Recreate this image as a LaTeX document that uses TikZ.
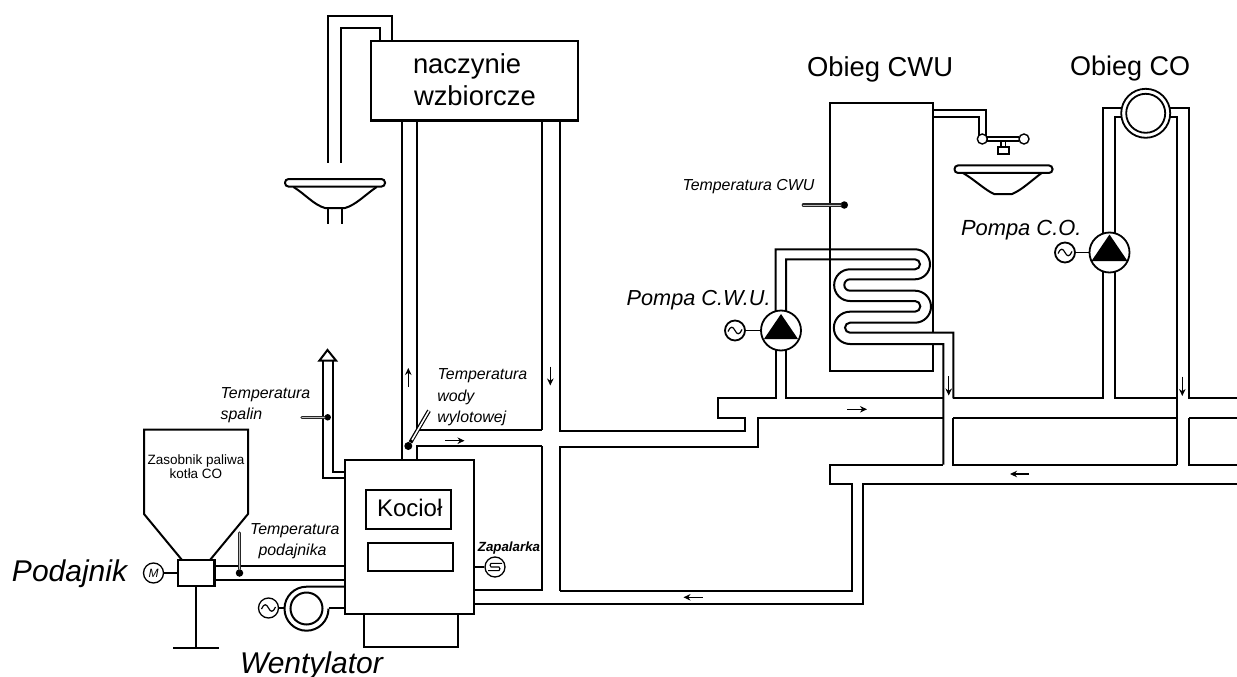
\documentclass[tikz,border=0pt]{standalone}
\usepackage{fontspec}
\setmainfont{Liberation Sans}
\usetikzlibrary{arrows.meta,calc}
\tikzset{
  pipe/.style={line width=2pt,line join=miter,draw=black},
  thin pipe/.style={line width=1.5pt},
  box/.style={draw,line width=2.2pt,fill=white},
  disc/.style={circle,draw,line width=1.8pt,fill=white,inner sep=0pt,minimum size=#1},
  dotmark/.style={circle,fill=black,inner sep=0pt,minimum size=#1},
  stemline/.style={line width=3.2pt,line cap=round,draw=black!85,postaction={draw=gray!50,line width=1pt}},
  flow/.style={line width=1.2pt,-{Stealth[length=7pt,width=6.5pt]}},
  lab/.style={anchor=base west,inner sep=0pt,outer sep=0pt,align=left},
}
\newcommand{\fsz}[1]{\fontsize{#1}{#1}\selectfont}
\newcommand{\sinewave}[1]{\draw[line width=1.2pt] ($(#1)+(-7,1)$) .. controls ($(#1)+(-4.5,-5)$) and ($(#1)+(-2,-4)$) .. ($(#1)+(0,0)$) .. controls ($(#1)+(2,4)$) and ($(#1)+(4.5,5)$) .. ($(#1)+(7,-1)$);}
\begin{document}
\begin{tikzpicture}[x=1pt,y=-1pt]
\useasboundingbox (0,0) rectangle (1237,677);

% overflow pipe and basin 1
\draw[pipe] (392.3,41) -- (392.3,15.7) -- (327.7,15.7) -- (327.7,162.7);
\draw[pipe] (380,41) -- (380,27.7) -- (341,27.7) -- (341,162.7);
\draw[pipe] (293.5,187) .. controls (305,194) and (314,205) .. (325,208) -- (345,208) .. controls (356,205) and (366,194) .. (376.7,187);
\draw[pipe] (327.7,208) -- (327.7,224) (342.3,208) -- (342.3,224);
\node[draw,line width=2pt,rounded corners=3.5pt,minimum width=100pt,minimum height=7.5pt,inner sep=0pt] (basinA) at (335,182.8) {};

% main supply / return from boiler
\draw[pipe] (401.7,460) -- (401.7,121);
\draw[pipe] (416.7,121) -- (416.7,430) -- (542.3,430);
\draw[pipe] (416.7,460) -- (416.7,446) -- (542.3,446);
\draw[pipe] (542.3,121) -- (542.3,430);
\draw[pipe] (542.3,446) -- (542.3,590) -- (474,590);
\draw[pipe] (559.7,121) -- (559.7,431) -- (745,431) -- (745,418.3) -- (718.3,418.3) -- (718.3,398.4) -- (775.7,398.4) -- (775.7,345);
\draw[pipe] (559.7,590.5) -- (559.7,446.7) -- (758,446.7) -- (758,417.8) -- (943.3,417.8);
\draw[pipe] (786,345) -- (786,398.4) -- (943.3,398.4);
% return main
\draw[pipe] (559.7,590.5) -- (851.7,590.5) -- (851.7,484.2) -- (830,484.2) -- (830,464.7) -- (943.3,464.7);
\draw[pipe] (474,603.5) -- (863.3,603.5) -- (863.3,484.2) -- (1237,484.2);

% DHW branch down
\draw[pipe] (953.3,417.8) -- (953.3,464.7) -- (1176.7,464.7);
\draw[pipe] (953.3,398.4) -- (1103.3,398.4) -- (1103.3,270);
\draw[pipe] (953.3,417.8) -- (1176.7,417.8);
\draw[pipe] (1115,270) -- (1115,398.4) -- (1176.7,398.4);
% CO circuit
\draw[pipe] (1103.3,235) -- (1103.3,108.3) -- (1189,108.3) -- (1189,398.4) -- (1237,398.4);
\draw[pipe] (1115,235) -- (1115,117.3) -- (1176.7,117.3) -- (1176.7,464.7);
\draw[pipe] (1189,417.8) -- (1237,417.8);
\draw[pipe] (1189,417.8) -- (1189,464.7) -- (1237,464.7);

% storage tank
\draw[pipe] (829.5,249.3) -- (829.5,102.7) -- (933.3,102.7) -- (933.3,332.7);
\draw[pipe] (829.5,249.3) -- (829.5,371) -- (933.3,371) -- (933.3,344);

% coil, two walls
\draw[pipe] (775.7,312) -- (775.7,249.3) -- (915,249.3)
  arc[start angle=-90,end angle=90,radius=15] -- (850,279.3)
  arc[start angle=-90,end angle=-270,radius=5.7] -- (915,290.7)
  arc[start angle=-90,end angle=90,radius=16] -- (850,322.7)
  arc[start angle=-90,end angle=-270,radius=5] -- (953.3,332.7) -- (953.3,398.4);
\draw[pipe] (786,312) -- (786,259.3) -- (915,259.3)
  arc[start angle=-90,end angle=90,radius=5] -- (850,269.3)
  arc[start angle=-90,end angle=-270,radius=15.85] -- (915,301)
  arc[start angle=-90,end angle=90,radius=5.35] -- (850,311.7)
  arc[start angle=-90,end angle=-270,radius=16.15] -- (943.3,344) -- (943.3,464.7);

% hot water to tap
\draw[pipe] (933.3,110) -- (985.7,110) -- (985.7,136);
\draw[pipe] (933.3,117.3) -- (979,117.3) -- (979,135);

% tap
\node[disc=10pt,line width=1.4pt] (tapL) at (982.3,139) {};
\node[disc=10pt,line width=1.4pt] (tapR) at (1024,139) {};
\draw[pipe] (987,136.9) -- (1019,136.9) (987,141) -- (1019,141);
\draw[pipe,thin pipe] (1001,141) -- (1001,147.5) (1005.7,141) -- (1005.7,147.5);
\node[draw,line width=1.6pt,minimum width=11pt,minimum height=7pt,inner sep=0pt] (tapS) at (1003.6,150.7) {};

% basin 2
\draw[pipe] (963,173) .. controls (975,180) and (985,190) .. (994,194) -- (1012,194) .. controls (1022,190) and (1032,180) .. (1041.7,173);
\node[draw,line width=2pt,rounded corners=3.5pt,minimum width=98pt,minimum height=7.5pt,inner sep=0pt] (basinB) at (1003.5,169.2) {};

% radiator
\node[disc=49pt] (rad) at (1145.7,113.3) {};
\node[disc=39pt] (radin) at (1145.7,113.3) {};

% pumps
\node[disc=40pt] (pumpW) at (781,330.5) {};
\fill ($(pumpW.center)+(0,-16.5)$) -- ($(pumpW.center)+(17,8.5)$) -- ($(pumpW.center)+(-17,8.5)$) -- cycle;
\node[disc=20pt] (srcW) at (735,330.5) {};
\sinewave{srcW.center}
\draw[line width=1.6pt] (srcW) -- (pumpW);

\node[disc=40pt] (pumpO) at (1109.5,252.5) {};
\fill ($(pumpO.center)+(0,-18)$) -- ($(pumpO.center)+(18,8.5)$) -- ($(pumpO.center)+(-18,8.5)$) -- cycle;
\node[disc=20pt] (srcO) at (1065,252.5) {};
\sinewave{srcO.center}
\draw[line width=1.6pt] (srcO) -- (pumpO);

% vessel
\node[box,minimum width=207pt,minimum height=79.5pt,inner sep=0pt] (vessel) at (474.7,80.8) {};

% boiler
\node[box,minimum width=94pt,minimum height=33pt,inner sep=0pt] (base) at (410.6,630.5) {};
\node[box,minimum width=129pt,minimum height=154pt,inner sep=0pt] (boiler) at (409.7,537) {};
\node[box,minimum width=84.7pt,minimum height=39pt,inner sep=0pt] (kociolbox) at (408.4,509.5) {};
\node[box,minimum width=84.7pt,minimum height=28.6pt,inner sep=0pt] (panel) at (410.4,557) {};

% igniter
\node[disc=20pt,line width=1.3pt] (zap) at (495,567) {};
\draw[line width=1.3pt] (boiler.east |- zap) -- (zap);
\draw[line width=1.1pt] ($(zap.center)+(7,-3.6)$) -- ($(zap.center)+(-4,-3.6)$) to[bend right=60] ($(zap.center)+(-4,0)$) -- ($(zap.center)+(4,0)$) to[bend left=60] ($(zap.center)+(4,3.6)$) -- ($(zap.center)+(-7,3.6)$);

% hopper
\draw[pipe] (182,560) -- (144,514) -- (144,429.7) -- (248,429.7) -- (248,514) -- (210,560);
\node[box,minimum width=36.5pt,minimum height=26.5pt,inner sep=0pt] (feeder) at (196.3,573) {};
\node[disc=20pt,line width=1.3pt] (motor) at (153.5,573) {};
\draw[line width=1.6pt] (motor) -- (feeder);
\node[inner sep=0pt] (mtxt) at (153.5,573) {\fsz{12}\itshape M};
\draw[pipe] (feeder.east |- 0,566) -- (boiler.west |- 0,566);
\draw[pipe] (feeder.east |- 0,580) -- (boiler.west |- 0,580);
\draw[pipe] (feeder.south) -- (196.3,648);
\coordinate (footL) at (173,648);
\coordinate (footR) at (219,648);
\draw[pipe] (footL) -- (footR);

% feeder sensor
\node[dotmark=7.5pt] (tpod) at (239.5,573) {};
\coordinate (tpodE) at (239.5,533);
\draw[stemline] (tpodE) -- (tpod);

% fan
\node[disc=20pt,line width=1.3pt] (srcF) at (268.5,608) {};
\sinewave{srcF.center}
\draw[pipe] (boiler.west |- 0,586.7) -- (306.5,586.7) arc[start angle=-90,end angle=-360,radius=22];
\draw[pipe] (328.5,608) -- (boiler.west |- 0,608);
\node[circle,draw,line width=2pt,inner sep=0pt,minimum size=32pt] (fan) at (306.5,608.5) {};
\draw[line width=1.6pt] (srcF) -- (284.5,608);

% flue
\draw[pipe] (boiler.west |- 0,478.3) -- (323.3,478.3) -- (323.3,361);
\draw[pipe] (boiler.west |- 0,471.7) -- (332.7,471.7) -- (332.7,361);
\draw[pipe] (327.5,350) -- (336,360.5) -- (319.5,360.5) -- cycle;
\node[dotmark=6.5pt] (tsp) at (327.7,417.3) {};
\coordinate (tspE) at (302,417.3);
\draw[stemline] (tspE) -- (tsp);

% water outlet sensor
\node[dotmark=8pt] (twy) at (408.3,446) {};
\coordinate (twyE) at (429,410.7);
\draw[line width=4pt] (twyE) -- (twy);
\draw[line width=1.6pt,white] (twyE) -- (412,440);

% DHW sensor
\node[dotmark=7.5pt] (tcw) at (844.3,205) {};
\coordinate (tcwE) at (803.3,205);
\draw[stemline] (tcwE) -- (tcw);

% flow arrows
\draw[flow] (408.3,387) -- (408.3,368);
\draw[flow] (550.3,366.5) -- (550.3,385.5);
\draw[flow] (445,440.7) -- (464.5,440.7);
\draw[flow] (702.7,597.3) -- (683.5,597.3);
\draw[flow] (847.3,409.3) -- (867,409.3);
\draw[flow] (948.7,376) -- (948.7,395.5);
\draw[flow] (1182.3,376.5) -- (1182.3,396);
\draw[flow] (1029,474) -- (1010,474);

% labels
\node[lab] (tNacz) at (413,74) {\fsz{27.4}naczynie};
\node[lab] (tWzb) at (414,105) {\fsz{27.4}wzbiorcze};
\node[lab] (tOCW) at (807,76.7) {\fsz{27.4}Obieg CWU};
\node[lab] (tOCO) at (1070,75.7) {\fsz{27}Obieg CO};
\node[lab] (tKoc) at (377,516.7) {\fsz{24}Kocioł};
\node[lab] (tPod) at (12,581.7) {\fsz{30}\itshape Podajnik};
\node[lab] (tWen) at (240,673) {\fsz{30}\itshape Wentylator};
\node[lab] (tPW) at (626.7,305) {\fsz{21.7}\itshape Pompa C.W.U.};
\node[lab] (tPO) at (961,235.7) {\fsz{21.9}\itshape Pompa C.O.};
\node[lab] (tCWU) at (682.5,190.5) {\fsz{15.9}\itshape Temperatura CWU};
\node[lab] (tS1) at (220.7,398.3) {\fsz{15.9}\itshape Temperatura};
\node[lab] (tS2) at (220.7,419.3) {\fsz{15.9}\itshape spalin};
\node[lab] (tP1) at (250,534) {\fsz{15.9}\itshape Temperatura};
\node[lab] (tP2) at (258.5,555) {\fsz{15.9}\itshape podajnika};
\node[lab] (tW1) at (437.7,379.3) {\fsz{15.9}\itshape Temperatura};
\node[lab] (tW2) at (437.3,401.3) {\fsz{15.9}\itshape wody};
\node[lab] (tW3) at (437.3,422.3) {\fsz{15.9}\itshape wylotowej};
\node[anchor=base,inner sep=0pt] (tZ1) at (196,464.3) {\fsz{13.5}Zasobnik paliwa};
\node[anchor=base,inner sep=0pt] (tZ2) at (196,478.3) {\fsz{13.5}kotła CO};
\node[anchor=base,inner sep=0pt] (tZap) at (509,551) {\fsz{13.3}\bfseries\itshape Zapalarka};
\end{tikzpicture}
\end{document}
